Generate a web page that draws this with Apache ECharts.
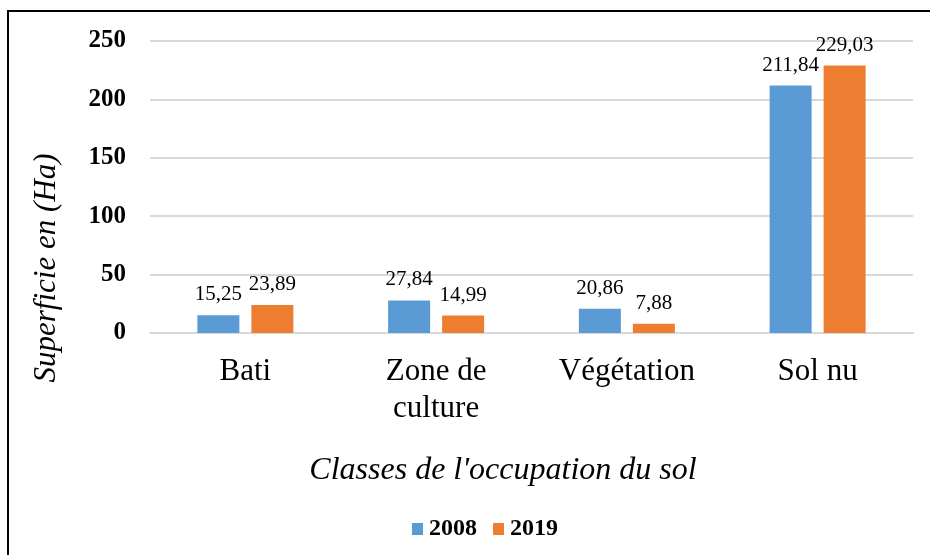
<!DOCTYPE html>
<html>
<head>
<meta charset="utf-8">
<script src="https://cdn.jsdelivr.net/npm/echarts@6/dist/echarts.min.js"></script>
<style>html,body{margin:0;padding:0;background:#fff}#c{width:930px;height:555px}</style>
</head>
<body>
<div id="c"></div>
<script>
var categories = ['Bati', 'Zone de\nculture', 'Végétation', 'Sol nu'];
var series2008 = [15.25, 27.84, 20.86, 211.84];
var series2019 = [23.89, 14.99, 7.88, 229.03];
var seriesNames = ['2008', '2019'];
var yTitle = 'Superficie en (Ha)';
var xTitle = "Classes de l'occupation du sol";

var FONT = "'Liberation Serif', 'Times New Roman', serif";
function fmt(p){ return p.value.toFixed(2).replace('.', ','); }
var chart = echarts.init(document.getElementById('c'));
var labelCfg = { show: true, position: 'top', distance: 10, formatter: fmt,
  fontFamily: FONT, fontSize: 21, color: '#000' };
chart.setOption({
  animation: false,
  grid: { left: 150, right: 17, top: 41, bottom: 222, containLabel: false },
  legend: {
    data: seriesNames, left: 407, top: 512, itemWidth: 11, itemHeight: 12, itemGap: 16,
    icon: 'rect',
    textStyle: { fontFamily: FONT, fontSize: 24, fontWeight: 'bold', color: '#000', padding: [0,0,0,1] }
  },
  xAxis: {
    type: 'category', data: categories,
    axisLine: { lineStyle: { color: '#D9D9D9', width: 2 } },
    axisTick: { show: false },
    axisLabel: { fontFamily: FONT, fontSize: 31, color: '#000', margin: 20, lineHeight: 37 }
  },
  yAxis: {
    type: 'value', min: 0, max: 250, interval: 50,
    axisLine: { show: false }, axisTick: { show: false },
    splitLine: { lineStyle: { color: '#D9D9D9', width: 2 } },
    axisLabel: { fontFamily: FONT, fontSize: 25, fontWeight: 'bold', color: '#000', margin: 24,
      padding: [5, 0, 0, 0] }
  },
  series: [
    { name: seriesNames[0], type: 'bar', data: series2008, barWidth: 42, barGap: '28.6%',
      itemStyle: { color: '#5B9BD5' }, label: labelCfg },
    { name: seriesNames[1], type: 'bar', data: series2019, barWidth: 42,
      itemStyle: { color: '#ED7D31' }, label: labelCfg }
  ],
  graphic: [
    { type: 'rect', silent: true, z: -1, shape: { x: 8, y: 11, width: 1000, height: 1000 },
      style: { fill: 'none', stroke: '#000', lineWidth: 2 } },
    { type: 'text', x: 47, y: 268, rotation: Math.PI / 2,
      style: { text: yTitle, fontFamily: FONT, fontSize: 31, fontStyle: 'italic', fill: '#000',
        textAlign: 'center', textVerticalAlign: 'middle' } },
    { type: 'text', x: 503, y: 471,
      style: { text: xTitle, fontFamily: FONT, fontSize: 32, fontStyle: 'italic', fill: '#000',
        textAlign: 'center', textVerticalAlign: 'middle' } }
  ]
});
</script>
</body>
</html>
